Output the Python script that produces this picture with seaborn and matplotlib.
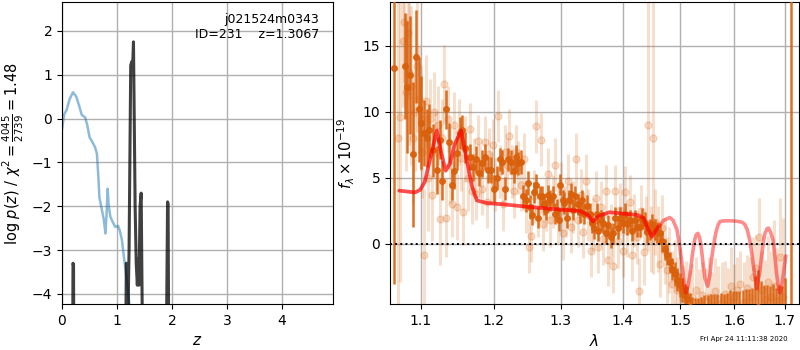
import numpy as np
import pandas as pd
import seaborn as sns
from matplotlib import pyplot as plt
from matplotlib.ticker import FixedLocator, FixedFormatter, NullLocator

# --- p(z) panel ---
chi2_z = [0.0, 0.04, 0.085, 0.14, 0.2, 0.26, 0.31, 0.36, 0.42, 0.46, 0.5, 0.55, 0.6,
          0.635, 0.66, 0.68, 0.72, 0.76, 0.79, 0.81, 0.83, 0.85, 0.88, 0.93, 0.97,
          1.02, 1.05, 1.09, 1.15, 1.2, 1.25]
chi2_logp = [-0.25, 0.1, 0.2, 0.45, 0.6, 0.5, 0.3, 0.08, 0.03, -0.15, -0.42, -0.53, -0.65,
             -0.8, -1.3, -1.8, -2.05, -2.3, -2.62, -2.2, -1.6, -2.0, -2.24, -2.38, -2.47,
             -2.45, -2.55, -2.77, -3.4, -3.9, -4.6]

pz_z = [0.0, 0.18, 0.195, 0.2, 0.21, 0.22, 1.14, 1.16, 1.17, 1.18, 1.2, 1.22, 1.25, 1.27,
        1.285, 1.30, 1.31, 1.33, 1.35, 1.37, 1.39, 1.40, 1.42, 1.44, 1.46, 1.48, 1.88,
        1.90, 1.92, 1.93, 1.95, 4.9]
pz_logp = [-8, -8, -5, -3.3, -3.35, -8, -8, -5, -3.3, -3.4, -4.5, -3.0, 1.22, 1.3,
           1.2, 1.75, 0.5, -2.0, -3.3, -3.8, -3.2, -3.8, -2.0, -1.7, -4.5, -8, -8,
           -5, -1.9, -1.95, -8, -8]

root = "j021524m0343"
obj_id = 231
z_best = 1.3067
chi2_num, chi2_dof = 4045, 2739

# --- spectrum panel: binned points ---
bin_wave = [1.065, 1.079, 1.082, 1.086, 1.0895, 1.094, 1.097, 1.100, 1.104, 1.108, 1.111,
            1.116, 1.121, 1.125, 1.128, 1.133, 1.137, 1.141, 1.145, 1.148, 1.152, 1.155,
            1.160, 1.166, 1.170, 1.175, 1.179, 1.183, 1.188, 1.192, 1.196, 1.201, 1.205,
            1.209, 1.212, 1.217, 1.221, 1.225, 1.229, 1.232, 1.236, 1.240, 1.243, 1.248,
            1.250, 1.253, 1.256, 1.259, 1.262, 1.265, 1.268, 1.271, 1.274, 1.278, 1.281,
            1.284, 1.288, 1.291, 1.294, 1.297, 1.299, 1.303, 1.306, 1.310, 1.313, 1.316,
            1.320, 1.323, 1.327, 1.330, 1.334, 1.337, 1.341, 1.346, 1.350, 1.353, 1.357,
            1.360, 1.364, 1.368, 1.372, 1.376, 1.380, 1.384, 1.388, 1.392, 1.396, 1.400,
            1.404, 1.408, 1.412, 1.416, 1.421, 1.425, 1.429, 1.433, 1.438, 1.442, 1.447,
            1.451, 1.455, 1.459, 1.464, 1.468, 1.472, 1.476, 1.481, 1.485, 1.490, 1.494,
            1.499, 1.503, 1.508, 1.512, 1.517, 1.522, 1.527, 1.533, 1.538, 1.544, 1.550,
            1.556, 1.562, 1.568, 1.574, 1.580, 1.586, 1.592, 1.598, 1.604, 1.610, 1.616,
            1.622, 1.628, 1.634, 1.640, 1.646, 1.652, 1.658, 1.664, 1.670, 1.676, 1.682,
            1.688, 1.694, 1.700, 1.713]
bin_flux = [13.3, 13.5, 11.9, 12.8, 6.8, 14.2, 10.2, 9.2, 8.4, 8.0, 8.6,
            7.1, 5.6, 7.9, 4.8, 10.2, 7.7, 4.5, 5.5, 6.9, 8.4, 8.6,
            7.3, 6.6, 5.8, 6.4, 5.4, 6.1, 6.6, 5.6, 5.6, 4.2, 5.0,
            6.4, 6.2, 4.2, 6.4, 6.2, 5.5, 6.6, 6.1, 6.2, 3.6, 3.3,
            4.6, 2.8, 2.2, 3.9, 4.5, 2.0, 3.6, 3.6, 3.0, 2.6, 3.7,
            3.3, 3.6, 2.3, 2.6, 1.8, 4.5, 3.3, 3.1, 2.0, 3.3, 3.8,
            2.6, 3.6, 3.0, 2.4, 3.3, 2.3, 2.9, 2.3, 1.6, 1.2, 2.3,
            1.0, 1.8, 1.6, 0.8, 1.4, 0.5, 0.8, 2.0, 1.2, 2.0, 1.6,
            2.3, 1.5, 1.8, 1.0, 1.8, 1.3, 1.3, 1.9, 1.6, 0.9, 1.1,
            1.5, 1.1, 0.9, 0.8, 0.2, -0.4, -0.8, -1.4, -1.9, -2.3, -2.7,
            -3.1, -3.5, -3.9, -4.2, -4.8, -5.2, -5.6, -5.5, -5.8, -5.4, -5.9,
            -5.6, -5.4, -6.0, -5.6, -5.8, -6.1, -5.3, -5.9, -5.6, -6.2, -5.7,
            -5.4, -6.0, -5.6, -5.0, -4.8, -5.4, -5.9, -5.6, -6.1, -5.8, -6.3,
            -6.0, -6.4, -6.1, 25.0]
bin_err = [16.3, 4.0, 5.0, 4.5, 5.5, 3.5, 4.0, 3.5, 2.5, 2.2, 2.0,
           2.0, 1.8, 1.5, 1.5, 1.5, 1.5, 1.2, 1.3, 1.3, 1.2, 1.2,
           1.2, 1.0, 1.0, 1.0, 1.0, 1.0, 1.0, 1.0, 1.0, 1.0, 0.9,
           0.9, 0.9, 0.9, 0.9, 0.9, 0.9, 0.9, 0.9, 0.9, 0.9, 0.9,
           0.9, 0.9, 0.8, 0.8, 0.8, 0.8, 0.8, 0.8, 0.8, 0.8, 0.8,
           0.8, 0.8, 0.8, 0.8, 0.8, 0.8, 0.8, 0.8, 0.8, 0.8, 0.8,
           0.8, 0.8, 0.8, 0.8, 0.8, 0.8, 0.8, 0.8, 0.8, 0.8, 0.8,
           0.8, 0.8, 0.8, 0.8, 0.8, 0.8, 0.8, 0.8, 0.8, 0.8, 0.8,
           0.8, 0.8, 0.8, 0.8, 0.8, 0.8, 0.8, 0.8, 0.8, 0.8, 0.8,
           0.8, 0.8, 0.8, 0.8, 0.8, 0.8, 0.8, 0.8, 0.8, 0.9, 0.9,
           0.9, 0.9, 0.9, 1.0, 1.1, 1.2, 1.5, 1.4, 1.8, 1.5, 2.0,
           1.8, 1.6, 2.2, 1.9, 2.0, 2.4, 1.8, 2.3, 2.0, 2.6, 2.2,
           2.0, 2.6, 2.3, 2.6, 2.8, 2.6, 2.8, 2.5, 2.9, 2.8, 3.0,
           2.9, 3.2, 3.5, 40.0]

# --- spectrum panel: unbinned pixels ---
pix_wave = [1.070, 1.073, 1.076, 1.078, 1.080, 1.083, 1.085, 1.087, 1.090, 1.092, 1.095,
            1.098, 1.100, 1.102, 1.104, 1.106, 1.109, 1.112, 1.114, 1.117, 1.120, 1.123,
            1.126, 1.128, 1.131, 1.134, 1.136, 1.139, 1.142, 1.145, 1.148, 1.151, 1.154,
            1.157, 1.160, 1.163, 1.166, 1.169, 1.172, 1.175, 1.178, 1.181, 1.184, 1.187,
            1.190, 1.193, 1.196, 1.199, 1.202, 1.206, 1.209, 1.213, 1.216, 1.219, 1.222,
            1.226, 1.229, 1.233, 1.236, 1.240, 1.244, 1.248, 1.252, 1.255, 1.259, 1.262,
            1.266, 1.270, 1.273, 1.277, 1.281, 1.284, 1.288, 1.292, 1.296, 1.300, 1.304,
            1.308, 1.312, 1.316, 1.320, 1.324, 1.328, 1.332, 1.336, 1.340, 1.344, 1.348,
            1.352, 1.356, 1.360, 1.364, 1.368, 1.372, 1.376, 1.380, 1.384, 1.388, 1.392,
            1.396, 1.400, 1.404, 1.408, 1.412, 1.416, 1.420, 1.424, 1.428, 1.432, 1.436,
            1.440, 1.444, 1.448, 1.452, 1.456, 1.460, 1.464, 1.468, 1.472, 1.476, 1.480,
            1.485, 1.490, 1.495, 1.500, 1.505, 1.510, 1.516, 1.522, 1.528, 1.534, 1.540,
            1.546, 1.552, 1.558, 1.564, 1.570, 1.576, 1.582, 1.588, 1.594, 1.600, 1.606,
            1.612, 1.618, 1.624, 1.630, 1.636, 1.642, 1.648, 1.654, 1.660, 1.666, 1.672,
            1.678, 1.684, 1.690, 1.696]
pix_flux = [8.0, 9.6, 15.4, 16.8, 11.5, 16.0, 13.0, 12.0, 8.0, 10.0, 13.5,
            11.0, 9.5, 7.0, -0.8, 10.8, 5.0, 9.5, 3.7, 10.0, 7.0, 9.0,
            1.9, 8.0, 12.1, 2.0, 9.5, 6.0, 3.0, 9.0, 2.8, 8.5, 6.5,
            2.4, 7.2, 5.0, 8.7, 4.0, 6.0, 3.8, 7.8, 5.5, 4.2, 7.7,
            3.2, 6.8, 5.0, 7.5, 4.5, 9.7, 5.5, 3.0, 7.0, 6.0, 8.2,
            5.5, 4.0, 7.0, 5.8, 4.5, 6.4, 2.8, -0.2, 0.6, 3.6, 8.9,
            2.5, 7.9, 1.5, 3.0, 5.3, 1.8, 3.2, 6.0, 2.0, 4.2, 0.8,
            2.5, 4.8, 1.3, 2.8, 6.4, 1.8, 3.7, 0.9, 4.8, 2.2, -0.5,
            1.5, 3.5, -0.2, 2.8, 0.4, 4.0, -1.2, 1.0, -1.7, 4.0, 0.2,
            2.6, -0.5, 3.9, 1.0, 3.2, -0.8, 1.8, 0.5, -3.6, 2.5, -0.6,
            1.6, 9.0, 0.4, 8.0, 1.7, 0.4, -1.5, 1.2, -0.5, -2.0, -1.2,
            -3.0, -2.2, -3.5, -2.8, -4.2, -3.8, -4.5, -4.0, -3.5, -4.4, -3.9,
            -4.3, -4.0, -4.6, -3.6, -4.2, -4.4, -3.8, -4.3, -3.2, -4.0, -3.5,
            -3.0, -4.4, -3.3, -4.0, -2.5, -1.8, 0.5, -3.5, -4.2, -2.9, -4.0,
            -3.2, -4.3, -1.0, -4.0]
pix_err = [13.0, 12.5, 5.0, 4.5, 6.0, 5.0, 5.5, 6.0, 5.0, 4.5, 5.0,
           4.0, 4.0, 3.5, 5.0, 3.5, 4.0, 3.0, 3.5, 3.0, 3.0, 3.0,
           3.5, 3.0, 3.0, 3.0, 2.5, 3.0, 2.5, 2.5, 2.5, 2.5, 2.5,
           2.5, 2.5, 2.5, 2.0, 2.5, 2.0, 2.0, 2.0, 2.0, 2.0, 2.0,
           2.0, 2.0, 2.0, 2.0, 2.0, 2.0, 2.0, 2.0, 2.0, 2.0, 2.0,
           2.0, 2.0, 2.0, 2.0, 2.0, 2.0, 2.0, 2.0, 2.0, 2.0, 2.0,
           2.0, 2.0, 2.0, 2.0, 2.0, 2.0, 2.0, 2.0, 2.0, 2.0, 2.0,
           2.0, 2.0, 2.0, 2.0, 2.0, 2.0, 2.0, 2.0, 2.0, 2.0, 2.0,
           2.0, 2.0, 2.0, 2.0, 2.0, 2.0, 2.0, 2.0, 2.0, 2.0, 2.0,
           2.0, 2.0, 2.0, 2.0, 2.0, 2.0, 2.0, 2.0, 2.5, 2.0, 2.5,
           2.0, 9.5, 2.5, 10.3, 2.5, 2.5, 2.5, 2.5, 2.5, 2.5, 2.5,
           2.5, 2.5, 2.5, 2.5, 2.5, 2.5, 2.5, 2.5, 2.5, 2.5, 2.5,
           2.5, 3.0, 2.5, 2.5, 2.5, 3.0, 2.5, 2.5, 3.0, 2.5, 2.5,
           2.5, 3.0, 2.5, 3.0, 3.0, 2.5, 3.0, 3.0, 3.0, 3.5, 3.5,
           5.0, 4.0, 4.5, 6.0]

# --- best-fit model ---
model_wave = [1.0718, 1.092, 1.099, 1.105, 1.112, 1.121, 1.127, 1.133, 1.139, 1.145,
              1.154, 1.161, 1.169, 1.176, 1.19, 1.214, 1.253, 1.30, 1.33, 1.343,
              1.351, 1.36, 1.378, 1.40, 1.424, 1.435, 1.444, 1.450, 1.461, 1.471,
              1.481, 1.487, 1.494, 1.499, 1.503, 1.507, 1.510, 1.514, 1.518, 1.522,
              1.526, 1.529, 1.532, 1.535, 1.538, 1.541, 1.545, 1.550, 1.554, 1.557,
              1.561, 1.565, 1.569, 1.573, 1.580, 1.592, 1.605, 1.615, 1.620, 1.625,
              1.630, 1.634, 1.639, 1.644, 1.649, 1.654, 1.657, 1.660, 1.664, 1.667,
              1.671, 1.676, 1.680, 1.683, 1.687, 1.690, 1.693, 1.696, 1.700, 1.702]
model_flux = [4.04, 3.9, 4.1, 4.7, 6.4, 8.6, 6.9, 5.55, 6.1, 7.5,
              8.6, 6.6, 4.4, 3.3, 3.1, 3.0, 2.8, 2.6, 2.5, 2.2,
              1.7, 2.1, 2.4, 2.3, 2.2, 2.0, 1.06, 0.55, 1.3, 1.8,
              2.0, 1.8, 1.1, -0.2, -1.45, -3.0, -3.7, -3.2, -2.2, -0.8,
              0.3, 0.7, 0.8, 0.5, -0.2, -1.3, -2.6, -3.2, -2.4, -1.2,
              -0.1, 0.8, 1.4, 1.7, 1.75, 1.76, 1.72, 1.65, 1.5, 1.1,
              0.3, -0.7, -2.2, -3.4, -2.3, -0.7, 0.2, 0.8, 1.15, 1.2,
              0.9, 0.3, -1.0, -2.2, -3.3, -3.7, -3.3, -2.5, -1.4, -0.9]

x_ticks = [1.1, 1.2, 1.3, 1.4, 1.5, 1.6, 1.7]
timestamp = "Fri Apr 24 11:11:38 2020"

spec_color = "#d9600b"

sns.set_style("ticks", {"axes.grid": True, "grid.color": "#b0b0b0",
                        "axes.edgecolor": "black", "xtick.color": "black",
                        "ytick.color": "black", "axes.labelcolor": "black",
                        "text.color": "black"})
plt.rcParams['font.family'] = ['DejaVu Sans']
plt.rcParams['grid.linewidth'] = 1.0

fig = plt.figure(figsize=(8, 3.5), dpi=100)
ax1 = fig.add_axes([0.0775, 0.1314, 0.3388, 0.8629])
ax2 = fig.add_axes([0.4875, 0.1314, 0.5113, 0.8629])

# left: chi2 / p(z)
df_chi = pd.DataFrame({"z": chi2_z, "logp": chi2_logp})
df_pz = pd.DataFrame({"z": pz_z, "logp": pz_logp})
sns.lineplot(data=df_chi, x="z", y="logp", sort=False, estimator=None,
             color="#1f77b4", alpha=0.5, lw=1.8, ax=ax1)
sns.lineplot(data=df_pz, x="z", y="logp", sort=False, estimator=None,
             color="k", alpha=0.75, lw=2.2, ax=ax1)
ax1.set_xlim(0, 4.93)
ax1.set_ylim(-4.23, 2.66)
ax1.set_xticks([0, 1, 2, 3, 4])
ax1.set_yticks([-4, -3, -2, -1, 0, 1, 2])
ax1.set_xlabel(r'$z$', fontsize=11)
ax1.set_ylabel(r'log $p(z)$' + ' / ' +
               r'$\chi^2=\frac{%d}{%d}=%.2f$' % (chi2_num, chi2_dof, chi2_num / chi2_dof),
               fontsize=10.5)
ax1.text(0.95, 0.965, '{0}\nID={1:<5d}  z={2:.4f}'.format(root, obj_id, z_best),
         ha='right', va='top', transform=ax1.transAxes, fontsize=9)
ax1.tick_params(labelsize=10)

# right: spectrum
ax2.errorbar(pix_wave, pix_flux, yerr=pix_err, marker='o', ms=5, linestyle='None',
             color=spec_color, alpha=0.2, elinewidth=2.2, zorder=2)
ax2.errorbar(bin_wave, bin_flux, yerr=bin_err, marker='o', ms=4, linestyle='None',
             color=spec_color, alpha=0.9, elinewidth=1.8, zorder=3)

df_model = pd.DataFrame({"wave": model_wave, "flux": model_flux})
sns.lineplot(data=df_model, x="wave", y="flux", sort=False, estimator=None,
             color="r", alpha=0.45, lw=2.6, ax=ax2, zorder=4)
sns.lineplot(data=df_model[df_model["wave"] < 1.47], x="wave", y="flux", sort=False,
             estimator=None, color="r", alpha=0.45, lw=2.6, ax=ax2, zorder=4)
ax2.axhline(0, color='k', linestyle=':', lw=1.4, zorder=5)

ax2.set_xscale('log')
ax2.xaxis.set_major_locator(FixedLocator(x_ticks))
ax2.xaxis.set_major_formatter(FixedFormatter(['{0:.1f}'.format(t) for t in x_ticks]))
ax2.xaxis.set_minor_locator(NullLocator())
ax2.set_xlim(1.060, 1.729)
ax2.set_ylim(-4.55, 18.33)
ax2.set_yticks([0, 5, 10, 15])
ax2.set_xlabel(r'$\lambda$', fontsize=11)
ax2.set_ylabel(r'$f_\lambda\times10^{-19}$', fontsize=10.5)
ax2.tick_params(labelsize=10)

fig.text(0.985, 0.022, timestamp, ha='right', va='bottom', fontsize=5)

fig.savefig("out.png", dpi=100)
